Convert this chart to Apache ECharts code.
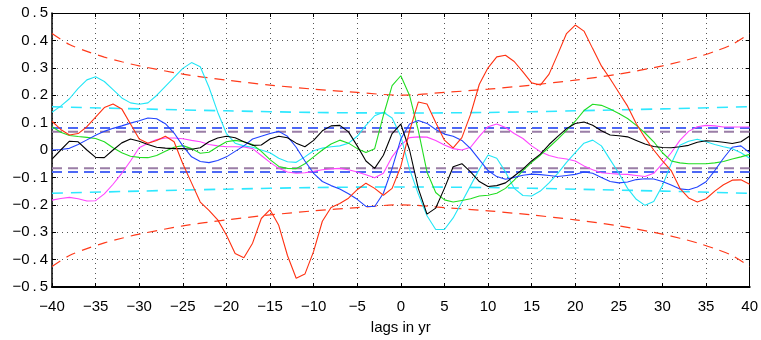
<!DOCTYPE html>
<html>
<head>
<meta charset="utf-8">
<script src="https://cdn.jsdelivr.net/npm/echarts@6/dist/echarts.min.js"></script>
<style>
html,body{margin:0;padding:0;background:#fff;}
#chart{width:761px;height:340px;}
</style>
</head>
<body>
<div id="chart"></div>
<script>
// lags in years, -40 .. 40
const lags = [];
for (let k = -40; k <= 40; k++) lags.push(k);

const redVals = [0.105,0.075,0.055,0.06,0.085,0.12,0.155,0.168,0.15,0.095,
 0.04,0.025,0.035,0.05,0.03,-0.05,-0.12,-0.19,-0.22,-0.255,
 -0.31,-0.378,-0.393,-0.34,-0.25,-0.218,-0.275,-0.385,-0.468,-0.453,
 -0.37,-0.26,-0.21,-0.195,-0.176,-0.145,-0.121,-0.14,-0.165,-0.14,
 -0.06,
 0.07,0.175,0.168,0.1,0.036,0.008,0.045,0.13,0.24,0.30,
 0.34,0.346,0.323,0.285,0.245,0.237,0.277,0.35,0.425,0.456,
 0.434,0.37,0.307,0.26,0.21,0.16,0.096,0.045,0.0,-0.04,
 -0.075,-0.14,-0.175,-0.19,-0.178,-0.15,-0.127,-0.11,-0.109,-0.125];

const cyanVals = [0.138,0.16,0.187,0.225,0.256,0.267,0.25,0.22,0.19,0.172,
 0.167,0.172,0.199,0.232,0.265,0.298,0.319,0.304,0.229,0.138,
 0.06,0.025,0.015,0.01,0.0,-0.01,-0.03,-0.043,-0.045,-0.025,
 -0.003,0.007,0.012,0.015,0.025,0.05,0.09,0.125,0.138,0.117,
 0.05,
 -0.07,-0.16,-0.24,-0.29,-0.29,-0.248,-0.19,-0.13,-0.07,-0.018,
 -0.03,-0.08,-0.14,-0.166,-0.168,-0.15,-0.12,-0.085,-0.045,-0.01,
 0.025,0.036,0.015,-0.035,-0.085,-0.14,-0.18,-0.202,-0.188,-0.13,
 -0.05,0.017,0.032,0.039,0.03,0.02,0.012,0.005,-0.01,-0.03];

const blueVals = [0.0,0.002,0.006,0.02,0.037,0.054,0.068,0.079,0.088,0.098,
 0.107,0.117,0.114,0.096,0.062,0.015,-0.025,-0.042,-0.046,-0.038,
 -0.025,-0.005,0.015,0.04,0.05,0.06,0.068,0.05,0.01,-0.04,
 -0.085,-0.115,-0.13,-0.142,-0.16,-0.18,-0.206,-0.206,-0.158,-0.067,
 0.04,
 0.095,0.108,0.097,0.075,0.058,0.05,0.035,0.005,-0.035,-0.075,
 -0.097,-0.107,-0.1,-0.092,-0.088,-0.09,-0.093,-0.097,-0.093,-0.089,
 -0.08,-0.085,-0.1,-0.115,-0.12,-0.117,-0.108,-0.105,-0.106,-0.115,
 -0.128,-0.142,-0.145,-0.135,-0.116,-0.075,-0.03,0.01,0.015,-0.01];

const blackVals = [-0.033,0.0,0.032,0.03,0.0,-0.027,-0.028,0.0,0.026,0.04,
 0.032,0.02,0.01,0.007,0.005,0.005,0.003,0.008,0.03,0.044,
 0.05,0.045,0.03,0.017,0.018,0.04,0.05,0.045,0.025,0.012,
 0.035,0.07,0.088,0.09,0.066,0.015,-0.04,-0.067,-0.019,0.06,
 0.094,
 0.0,-0.14,-0.234,-0.212,-0.14,-0.061,-0.05,-0.08,-0.115,-0.133,
 -0.13,-0.12,-0.095,-0.07,-0.04,-0.015,0.02,0.05,0.078,0.097,
 0.102,0.09,0.07,0.055,0.052,0.048,0.035,0.022,0.013,0.009,
 0.008,0.012,0.017,0.028,0.034,0.032,0.028,0.024,0.03,0.051];

const greenVals = [0.085,0.065,0.053,0.049,0.046,0.042,0.03,0.008,-0.01,-0.023,
 -0.027,-0.028,-0.02,-0.005,0.01,0.016,0.005,-0.012,-0.008,0.012,
 0.03,0.035,0.03,0.02,-0.005,-0.035,-0.06,-0.067,-0.068,-0.05,
 -0.025,0.0,0.022,0.036,0.025,0.005,-0.009,0.005,0.126,0.235,
 0.271,
 0.199,0.072,-0.08,-0.155,-0.182,-0.19,-0.184,-0.178,-0.168,-0.165,
 -0.158,-0.14,-0.11,-0.075,-0.045,-0.019,0.01,0.04,0.072,0.105,
 0.144,0.167,0.163,0.15,0.133,0.115,0.09,0.062,0.03,-0.01,
 -0.04,-0.047,-0.05,-0.05,-0.05,-0.047,-0.042,-0.033,-0.025,-0.016];

const magentaVals = [-0.183,-0.177,-0.173,-0.178,-0.186,-0.185,-0.16,-0.125,-0.085,-0.04,
 0.008,0.025,0.038,0.044,0.044,0.041,0.035,0.03,0.02,0.015,
 0.012,0.012,0.011,0.005,-0.02,-0.045,-0.067,-0.08,-0.085,-0.083,
 -0.078,-0.072,-0.069,-0.067,-0.072,-0.08,-0.09,-0.101,-0.085,-0.025,
 0.018,
 0.045,0.048,0.047,0.035,0.018,0.005,0.0,0.01,0.05,0.085,
 0.095,0.082,0.06,0.042,0.015,-0.006,-0.02,-0.028,-0.033,-0.04,
 -0.058,-0.072,-0.083,-0.086,-0.088,-0.089,-0.093,-0.097,-0.085,-0.05,
 -0.01,0.035,0.068,0.085,0.09,0.088,0.084,0.084,0.084,0.084];

// significance bounds
const redBoundLags = [-40,-38,-36,-34,-32,-30,-25,-20,-15,-10,-5,0,5,10,15,20,25,30,32,34,36,38,40];
const redBoundVals = [0.425,0.385,0.36,0.339,0.322,0.307,0.277,0.255,0.237,0.222,0.21,0.2,0.21,0.222,0.237,0.255,0.277,0.307,0.322,0.339,0.36,0.385,0.425];
const cyanBoundLags = [-40,-30,-20,-10,0,10,20,30,40];
const cyanBoundVals = [0.158,0.15,0.143,0.137,0.135,0.137,0.143,0.15,0.158];
const blueBoundLags = [-40,40];
const blueBoundVals = [0.08,0.08];
const greyBoundLags = [-40,40];
const greyBoundVals = [0.067,0.067];

const xTicks = [-40,-35,-30,-25,-20,-15,-10,-5,0,5,10,15,20,25,30,35,40];
const yTicks = [-0.5,-0.4,-0.3,-0.2,-0.1,0,0.1,0.2,0.3,0.4,0.5];

const pair = (xs, ys, sign) => xs.map((x, i) => [x, sign * ys[i]]);
const FONT = "'Liberation Sans', Arial, Helvetica, sans-serif";

function solid(name, vals, color) {
  return {name, type:'line', data: pair(lags, vals, 1), showSymbol:false, symbol:'none',
    lineStyle:{color, width:1.1}, z:5, animation:false};
}
function dashed(name, xs, vals, sign, color, width, dash, smooth) {
  return {name, type:'line', data: pair(xs, vals, sign), showSymbol:false, symbol:'none',
    smooth: smooth ? 0.3 : false,
    lineStyle:{color, width, type: dash}, z:3, animation:false};
}

const minus = s => String(s).replace('-', '\u2212');

const chart = echarts.init(document.getElementById('chart'), null, {renderer:'canvas'});
chart.setOption({
  backgroundColor:'#fff',
  animation:false,
  grid:{left:52, right:8, top:13, bottom:51, show:false},
  xAxis:[{
    type:'value', min:-40, max:40, interval:5, position:'bottom',
    axisLine:{show:true, onZero:false, lineStyle:{color:'#000', width:2}},
    axisTick:{show:true, inside:true, length:4, lineStyle:{color:'#000'}},
    axisLabel:{color:'#000', fontSize:15, fontFamily:FONT, margin:12,
      formatter: v => xTicks.indexOf(v) >= 0 ? minus(v) : ''},
    splitLine:{show:true, lineStyle:{color:'#555', width:1, type:[1,4]}},
    name:'lags in yr', nameLocation:'middle', nameGap:33,
    nameTextStyle:{color:'#000', fontSize:15, fontFamily:FONT}
  },{
    type:'value', min:-40, max:40, interval:5, position:'top',
    axisLine:{show:true, onZero:false, lineStyle:{color:'#000', width:1}},
    axisTick:{show:true, inside:true, length:4, lineStyle:{color:'#000'}},
    axisLabel:{show:false}, splitLine:{show:false}
  }],
  yAxis:[{
    type:'value', min:-0.5, max:0.5, interval:0.1, position:'left',
    axisLine:{show:true, onZero:false, lineStyle:{color:'#000', width:1.5}},
    axisTick:{show:true, inside:true, length:4, lineStyle:{color:'#000'}},
    axisLabel:{color:'#000', fontSize:15, fontFamily:FONT, margin:4,
      formatter: v => {
        const r = Math.round(v*10)/10;
        if (r === 0) return '0';
        const s = minus(r.toFixed(1));
        const parts = s.split('.');
        return '{d|' + parts[0] + '}{p|.}{d|' + parts[1] + '}';
      },
      rich:{
        d:{fontSize:15, fontFamily:FONT, color:'#000'},
        p:{fontSize:15, fontFamily:FONT, color:'#000', padding:[0,3,0,3]}
      }},
    splitLine:{show:true, lineStyle:{color:'#555', width:1, type:[1,4]}}
  },{
    type:'value', min:-0.5, max:0.5, interval:0.1, position:'right',
    axisLine:{show:true, onZero:false, lineStyle:{color:'#000', width:1}},
    axisTick:{show:true, inside:true, length:4, lineStyle:{color:'#000'}},
    axisLabel:{show:false}, splitLine:{show:false}
  }],
  series:[
    dashed('red bound +', redBoundLags, redBoundVals, 1, '#ff3a1a', 1.2, [10,7], true),
    dashed('red bound -', redBoundLags, redBoundVals, -1, '#ff3a1a', 1.2, [10,7], true),
    dashed('cyan bound +', cyanBoundLags, cyanBoundVals, 1, '#2ee8ff', 1.6, [11,8], true),
    dashed('cyan bound -', cyanBoundLags, cyanBoundVals, -1, '#2ee8ff', 1.6, [11,8], true),
    dashed('blue bound +', blueBoundLags, blueBoundVals, 1, '#4d68f5', 2, [10,6], false),
    dashed('blue bound -', blueBoundLags, blueBoundVals, -1, '#4d68f5', 2, [10,6], false),
    dashed('grey bound +', greyBoundLags, greyBoundVals, 1, '#9a7ea6', 2, [10,6], false),
    dashed('grey bound -', greyBoundLags, greyBoundVals, -1, '#9a7ea6', 2, [10,6], false),
    solid('magenta', magentaVals, '#ff44ff'),
    solid('cyan', cyanVals, '#22e6f6'),
    solid('green', greenVals, '#22dd22'),
    solid('blue', blueVals, '#2244ff'),
    solid('black', blackVals, '#000000'),
    solid('red', redVals, '#ff3010')
  ]
});
</script>
</body>
</html>
